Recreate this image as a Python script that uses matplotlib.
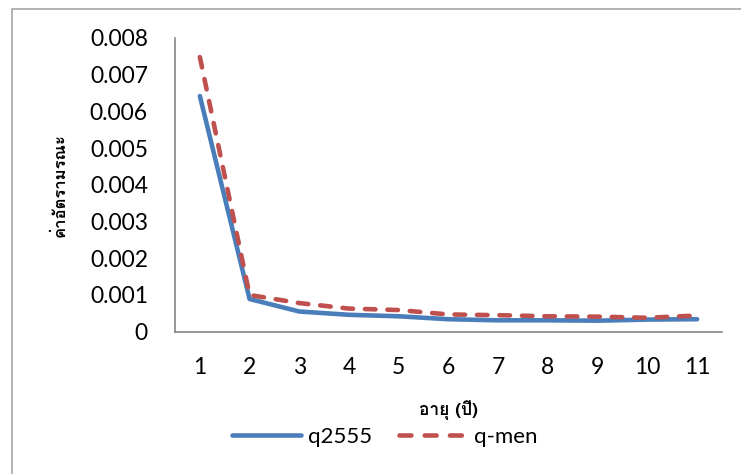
import matplotlib
matplotlib.use("Agg")
import matplotlib.pyplot as plt
from matplotlib import font_manager
from matplotlib.ft2font import FT2Font
from matplotlib.patches import Rectangle

# mortality rate by age, two tables
ages = [1, 2, 3, 4, 5, 6, 7, 8, 9, 10, 11]
q2555 = [0.00642, 0.00089, 0.00055, 0.00046, 0.00042, 0.00034,
         0.00031, 0.00031, 0.00030, 0.00033, 0.00034]
q_men = [0.00748, 0.00100, 0.00078, 0.00063, 0.00059, 0.00047,
         0.00045, 0.00042, 0.00041, 0.00038, 0.00044]
yticks = [0, 0.001, 0.002, 0.003, 0.004, 0.005, 0.006, 0.007, 0.008]
ytick_labels = ["0", "0.001", "0.002", "0.003", "0.004", "0.005", "0.006", "0.007", "0.008"]


def find_family(ch):
    # first installed family whose font file has a glyph for ch
    for f in font_manager.fontManager.ttflist:
        try:
            if ord(ch) in FT2Font(f.fname).get_charmap():
                return f.name
        except Exception:
            pass
    return None


thai = find_family('ค')
families = ['Lato', 'Noto Sans', 'DejaVu Sans']
if thai:
    families.insert(1, thai)
plt.rcParams['font.family'] = families

fig = plt.figure(figsize=(7.41, 4.74), dpi=100)
fig.patch.set_facecolor('white')
# chart area border
fig.patches.append(Rectangle((12 / 741, -0.1), 1.2, (474 - 9) / 474 + 0.1,
                             transform=fig.transFigure, fill=False,
                             edgecolor='#a6a6a6', linewidth=1.2))

ax = fig.add_axes([175 / 741, (474 - 331.7) / 474, 547 / 741, 293.7 / 474])

blue = '#4a7ebb'
red = '#c0504d'
ax.plot(ages, q2555, color=blue, linewidth=3.3, solid_capstyle='round',
        solid_joinstyle='round', label='q2555')
ax.plot(ages, q_men, color=red, linewidth=3.3, dashes=(2.3, 2.6),
        dash_capstyle='round', dash_joinstyle='round', label='q-men')

ax.set_xlim(0.5, 11.5)
ax.set_ylim(0, 0.008)
ax.set_xticks(ages)
ax.set_xticklabels([str(a) for a in ages])
ax.set_yticks(yticks)
ax.set_yticklabels(ytick_labels)
ax.tick_params(axis='both', length=0, labelsize=16.5, colors='black')
ax.tick_params(axis='y', pad=19.5)
ax.tick_params(axis='x', pad=18)

for side in ['top', 'right']:
    ax.spines[side].set_visible(False)
for side in ['left', 'bottom']:
    ax.spines[side].set_color('#868686')
    ax.spines[side].set_linewidth(1.2)

thai_fam = [thai, 'DejaVu Sans'] if thai else ['DejaVu Sans']
ax.set_ylabel('ค่าอัตรามรณะ', fontsize=12, fontweight='bold', labelpad=16,
              family=thai_fam)
ax.set_xlabel('อายุ (ปี)', fontsize=12.5, fontweight='bold', labelpad=16,
              family=thai_fam)

leg = fig.legend(loc='center', bbox_to_anchor=(385 / 741, 1 - 437 / 474), ncol=2,
                 frameon=False, fontsize=16, handlelength=3.1, handletextpad=0.3,
                 columnspacing=1.2)
leg.get_lines()[1].set_dashes((2.6, 2.9))

fig.savefig('out.png', dpi=100)
